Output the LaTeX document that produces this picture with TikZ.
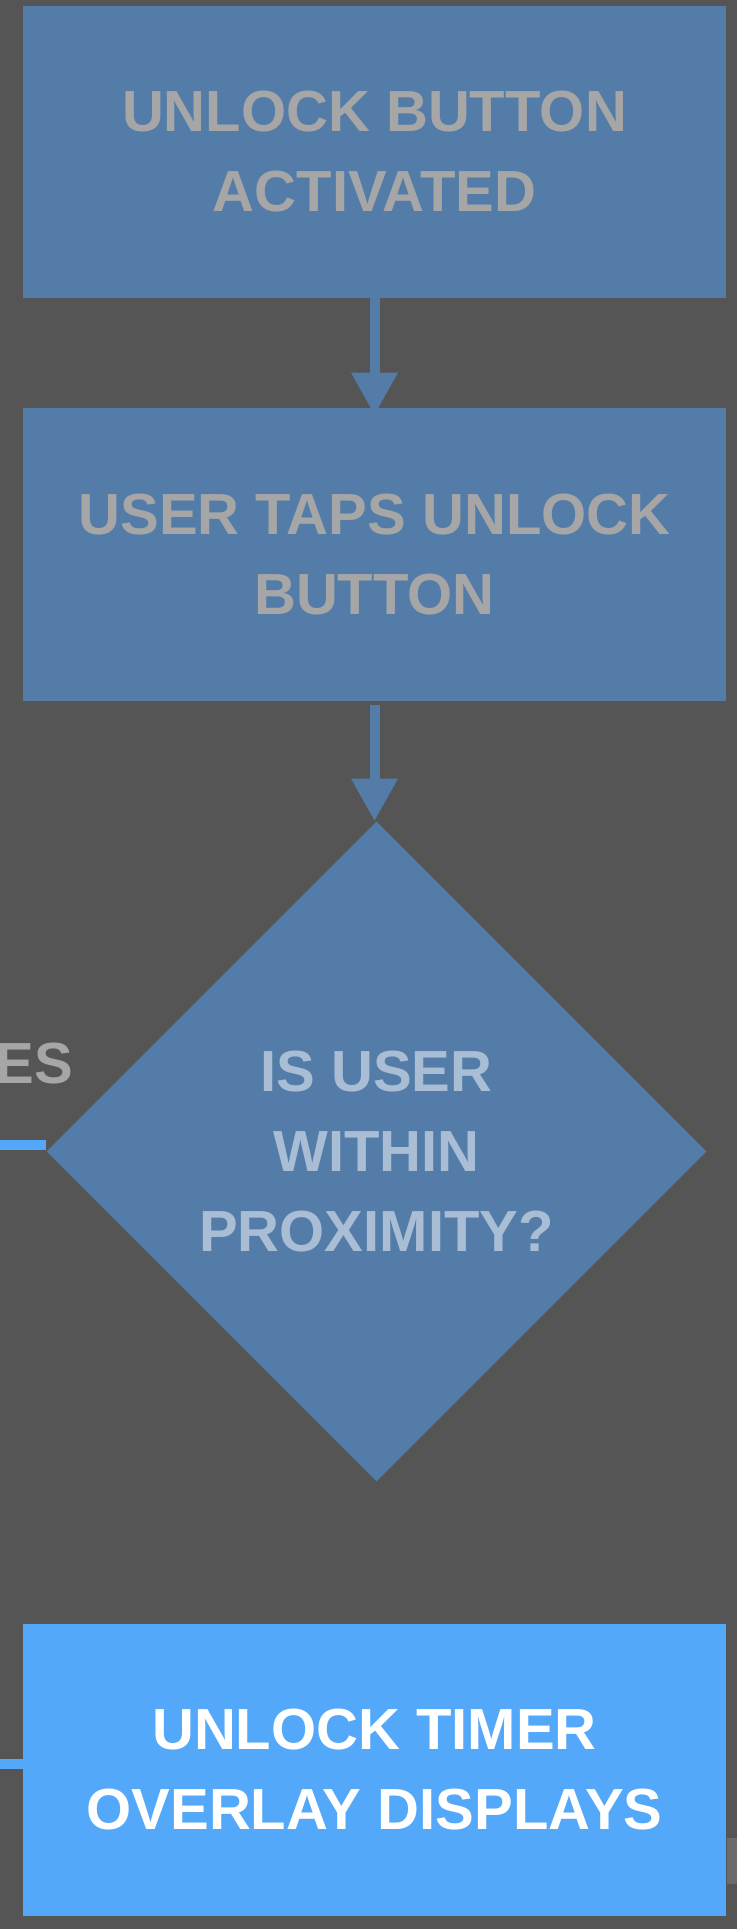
\documentclass[tikz,border=0pt]{standalone}
\usepackage{fontspec}
\setmainfont{Liberation Sans}
\usetikzlibrary{shapes.geometric,arrows.meta}

\definecolor{bgGray}{HTML}{555555}
\definecolor{stepBlue}{HTML}{537DA8}
\definecolor{labelGray}{HTML}{A6A6A6}
\definecolor{askText}{HTML}{A9BDD5}
\definecolor{brightBlue}{HTML}{53A8FA}
\definecolor{scrollGray}{HTML}{6B6B6B}

\tikzset{
  bigtext/.style={font=\fontsize{43.5}{60}\selectfont\bfseries, align=center},
  stepbox/.style={rectangle, fill=stepBlue, text=labelGray, bigtext,
    minimum width=527.25pt, minimum height=219pt, inner sep=0pt},
  askbox/.style={diamond, aspect=1, fill=stepBlue, text=askText, bigtext,
    minimum width=495pt, minimum height=495pt, inner sep=0pt},
  donebox/.style={stepbox, fill=brightBlue, text=white},
  flowarrow/.style={draw=stepBlue, line width=7.5pt,
    -{Triangle[width=33pt,length=32pt]}},
  yesline/.style={draw=brightBlue, line width=7.5pt}
}

\begin{document}
\begin{tikzpicture}[x=0.75pt,y=0.75pt,yscale=-1,xscale=1]
    %Background
    \fill[bgGray] (0,0) rectangle (737,1929);
    \useasboundingbox (0,0) rectangle (737,1929);

    %Steps
    \node[stepbox] (activated) at (374.5,152) {UNLOCK BUTTON\\ACTIVATED};
    \node[stepbox] (taps) at (374.5,554.5) {USER TAPS UNLOCK\\BUTTON};
    %Decision
    \node[askbox] (proximity) at (376.5,1151.5) {IS USER\\WITHIN\\PROXIMITY?};
    %Result
    \node[donebox] (overlay) at (374.5,1770) {UNLOCK TIMER\\OVERLAY DISPLAYS};

    %Arrows
    \draw[flowarrow, shorten >=-5.25pt] (activated.south) -- (taps.north);
    \draw[flowarrow, shorten <=3pt] (taps.south) -- (taps.south |- proximity.north);

    %Yes branch (cut at the left edge)
    \node[anchor=base east, text=labelGray, bigtext] (yeslabel) at (78,1083) {YES};
    \coordinate (yesin) at (0,1145);
    \draw[yesline] (yesin) -- (yesin -| proximity.west);
    \coordinate (timerin) at (0,1764);
    \draw[yesline] (timerin) -- (timerin -| overlay.west);

    %Edge tab
    \fill[scrollGray] (727,1838) rectangle (737,1884);
\end{tikzpicture}
\end{document}
